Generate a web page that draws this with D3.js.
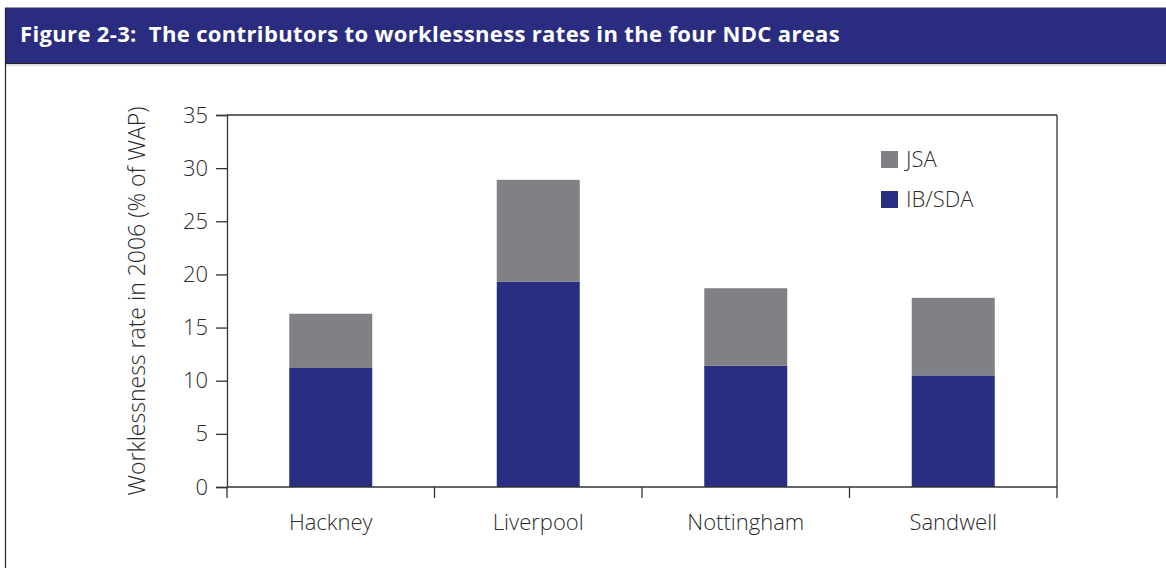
<!DOCTYPE html>
<html>
<head>
<meta charset="utf-8">
<script src="https://cdn.jsdelivr.net/npm/d3@7"></script>
<style>
  html, body { margin: 0; padding: 0; background: #fff; }
  svg text { font-family: "Open Sans", "Noto Sans", sans-serif; }
</style>
</head>
<body>
<svg id="chart" width="1166" height="568"></svg>
<script>
const areas = ["Hackney", "Liverpool", "Nottingham", "Sandwell"];
const ibSda = [11.2, 19.3, 11.4, 10.5];
const jsa = [5.1, 9.6, 7.3, 7.3];
const yTicks = [0, 5, 10, 15, 20, 25, 30, 35];
const seriesNames = ["JSA", "IB/SDA"];

const COLORS = { "IB/SDA": "#2a2e82", "JSA": "#808184", header: "#2a2d7f", text: "#2a2a2a" };

const svg = d3.select("#chart");
const W = 1166, H = 568;
const margin = { top: 115, right: 109, bottom: 81, left: 227 };

// header band + frame
svg.append("rect").attr("x", 5).attr("y", 7).attr("width", W - 5).attr("height", 1.5).attr("fill", "#999");
svg.append("rect").attr("x", 5).attr("y", 8).attr("width", W - 5).attr("height", 55).attr("fill", COLORS.header);
svg.append("line").attr("x1", 5).attr("x2", W).attr("y1", 63.5).attr("y2", 63.5).attr("stroke", "#222").attr("stroke-width", 1.2);
svg.append("line").attr("x1", 5).attr("x2", W).attr("y1", 65).attr("y2", 65).attr("stroke", "#bbb").attr("stroke-width", 1);
svg.append("line").attr("x1", 5.5).attr("x2", 5.5).attr("y1", 8).attr("y2", H).attr("stroke", "#222").attr("stroke-width", 1.2);

svg.append("text")
  .attr("x", 20).attr("y", 42)
  .attr("fill", "#fff")
  .style("font-size", "22px").style("font-weight", "700")
  .style("letter-spacing", "0.35px")
  .attr("xml:space", "preserve")
  .text("Figure 2-3:  The contributors to worklessness rates in the four NDC areas");

const x = d3.scaleBand()
  .domain(areas)
  .range([margin.left, W - margin.right])
  .paddingInner(0.6)
  .paddingOuter(0.3);

const y = d3.scaleLinear()
  .domain([0, 35])
  .range([H - margin.bottom, margin.top]);

const rows = areas.map((a, i) => ({ area: a, "IB/SDA": ibSda[i], "JSA": jsa[i] }));
const stacked = d3.stack().keys(["IB/SDA", "JSA"])(rows);

svg.append("g")
  .selectAll("g")
  .data(stacked)
  .join("g")
  .attr("fill", (d) => COLORS[d.key])
  .selectAll("rect")
  .data((d) => d)
  .join("rect")
  .attr("x", (d) => x(d.data.area))
  .attr("width", x.bandwidth())
  .attr("y", (d) => y(d[1]))
  .attr("height", (d) => y(d[0]) - y(d[1]));

// plot frame: top and right
const x0 = margin.left, x1 = W - margin.right;
svg.append("line").attr("x1", x0).attr("x2", x1).attr("y1", y(35)).attr("y2", y(35)).attr("stroke", "#333").attr("stroke-width", 1.3);
svg.append("line").attr("x1", x1).attr("x2", x1).attr("y1", y(35)).attr("y2", y(0)).attr("stroke", "#333").attr("stroke-width", 1.3);

// y axis
const yAxis = svg.append("g")
  .attr("transform", `translate(${x0},0)`)
  .call(d3.axisLeft(y).tickValues(yTicks).tickSize(11).tickPadding(8));
yAxis.selectAll("text").style("font-size", "22px").style("font-weight", "300").attr("fill", COLORS.text);

// x axis with ticks at category boundaries
const step = x.step();
const bounds = d3.range(areas.length + 1).map((i) => x0 + i * step);
const xAxis = svg.append("g").attr("transform", `translate(0,${y(0)})`);
xAxis.append("line").attr("x1", x0).attr("x2", x1).attr("stroke", "#333").attr("stroke-width", 1.3);
xAxis.selectAll(".bt").data(bounds).join("line")
  .attr("x1", (d) => d).attr("x2", (d) => d)
  .attr("y1", 0).attr("y2", 11)
  .attr("stroke", "#333").attr("stroke-width", 1.3);
xAxis.selectAll(".lbl").data(areas).join("text")
  .attr("x", (d) => x(d) + x.bandwidth() / 2)
  .attr("y", 43)
  .attr("text-anchor", "middle")
  .attr("fill", COLORS.text)
  .style("font-size", "22px").style("font-weight", "300")
  .text((d) => d);

svg.selectAll(".domain, .tick line").attr("stroke", "#333").attr("stroke-width", 1.3);

// y label
svg.append("text")
  .attr("transform", `translate(145,${(y(0) + y(35)) / 2}) rotate(-90)`)
  .attr("text-anchor", "middle")
  .attr("fill", COLORS.text)
  .style("font-size", "23px").style("font-weight", "300")
  .text("Worklessness rate in 2006 (% of WAP)");

// legend
const legend = svg.append("g").attr("transform", "translate(881,151)");
legend.selectAll("g").data(seriesNames).join("g")
  .attr("transform", (d, i) => `translate(0,${i * 40})`)
  .each(function (d) {
    const g = d3.select(this);
    g.append("rect").attr("width", 17).attr("height", 17).attr("fill", COLORS[d]);
    g.append("text").attr("x", 25).attr("y", 16)
      .attr("fill", COLORS.text)
      .style("font-size", "22px").style("font-weight", "300")
      .text(d);
  });
</script>
</body>
</html>
